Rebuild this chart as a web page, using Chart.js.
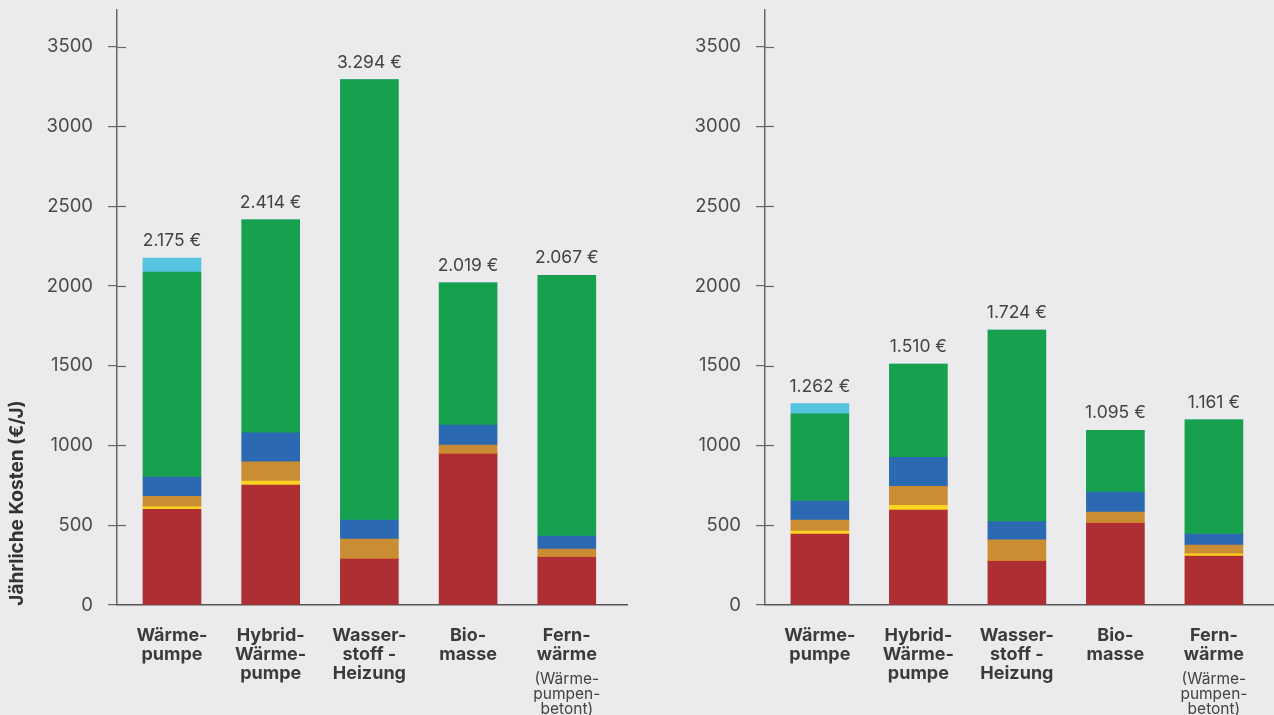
<!DOCTYPE html>
<html>
<head>
<meta charset="utf-8">
<script src="https://cdn.jsdelivr.net/npm/chart.js@4.4.1/dist/chart.umd.min.js"></script>
<style>
html,body{margin:0;padding:0;background:#ebebed;}
#wrap{position:relative;width:1274px;height:715px;overflow:hidden;}
#c1{position:absolute;left:0;top:0;}
#c2{position:absolute;left:640px;top:0;}
</style>
</head>
<body>
<div id="wrap">
<canvas id="c1" width="640" height="715"></canvas>
<canvas id="c2" width="634" height="715"></canvas>
</div>
<script>
// ---- data ----
const categories = [["Wärme-","pumpe"],["Hybrid-","Wärme-","pumpe"],["Wasser-","stoff -","Heizung"],["Bio-","masse"],["Fern-","wärme"]];
const categoryNotes = [null,null,null,null,["(Wärme-","pumpen-","betont)"]];
const yTicks = [0,500,1000,1500,2000,2500,3000,3500];
const yAxisTitle = "Jährliche Kosten (€/J)";
const seriesNames = ["Anteil 1","Anteil 2","Anteil 3","Anteil 4","Anteil 5","Anteil 6"];

// left panel
const leftRed       = [600, 752, 289, 947, 301];
const leftYellow    = [15, 25, 0, 0, 0];
const leftOrange    = [67, 121, 125, 56, 50];
const leftBlue      = [120, 182, 119, 125, 81];
const leftGreen     = [1285, 1334, 2761, 891, 1635];
const leftLightBlue = [88, 0, 0, 0, 0];

// right panel
const rightRed       = [445, 595, 276, 514, 307];
const rightYellow    = [19, 30, 0, 0, 13];
const rightOrange    = [69, 119, 132, 69, 56];
const rightBlue      = [119, 182, 115, 125, 69];
const rightGreen     = [547, 584, 1201, 387, 716];
const rightLightBlue = [63, 0, 0, 0, 0];

// ---- styles ----
const colors = ["#ad2f33","#fdd421","#cb8d33","#2b69b2","#17a04e","#55c4e0"];
const FONT = "Inter, Roboto, sans-serif";

function fmt(n){
  return String(Math.round(n)).replace(/\B(?=(\d{3})+(?!\d))/g, ".") + " €";
}

function buildDatasets(series){
  return series.map((vals, k) => ({
    label: seriesNames[k],
    data: vals.map((v,i)=>({x:i, y:v})),
    backgroundColor: colors[k],
    borderWidth: 0,
    barThickness: 58
  }));
}

const decor = {
  id: 'decor',
  afterDatasetsDraw(chart, args, opts){
    const {ctx, chartArea} = chart;
    const x = chart.scales.x, y = chart.scales.y;
    ctx.save();
    // inner halves of y tick marks
    ctx.strokeStyle = '#666'; ctx.lineWidth = 1.2;
    y.ticks.forEach(t => {
      if (t.value === 0) return;
      const py = Math.round(y.getPixelForValue(t.value)) + 0.5;
      ctx.beginPath(); ctx.moveTo(chartArea.left, py); ctx.lineTo(chartArea.left + 9, py); ctx.stroke();
    });
    // totals
    const sets = chart.data.datasets;
    ctx.fillStyle = '#444'; ctx.font = '17.5px ' + FONT; ctx.textAlign = 'center'; ctx.textBaseline = 'alphabetic';
    categories.forEach((c,i) => {
      let tot = 0; sets.forEach(ds => tot += ds.data[i].y);
      ctx.fillText(fmt(tot), x.getPixelForValue(i), y.getPixelForValue(tot) - 12);
    });
    // notes under category labels
    ctx.font = '15.5px ' + FONT; ctx.fillStyle = '#444'; ctx.textBaseline = 'middle';
    categoryNotes.forEach((note,i) => {
      if (!note) return;
      note.forEach((line,j) => ctx.fillText(line, x.getPixelForValue(i), chartArea.bottom + 74 + j*15));
    });
    // y title
    if (opts.title){
      ctx.translate(17, chartArea.bottom - 102);
      ctx.rotate(-Math.PI/2);
      ctx.font = 'bold 19px ' + FONT; ctx.fillStyle = '#333'; ctx.textAlign = 'center';
      ctx.fillText(opts.title, 0, 0);
    }
    ctx.restore();
  }
};

function makeChart(id, series, yWidth, padRight, title){
  return new Chart(document.getElementById(id), {
    type: 'bar',
    data: { datasets: buildDatasets(series) },
    plugins: [decor],
    options: {
      responsive: false,
      animation: false,
      layout: { padding: { top: 10, right: padRight, left: 0, bottom: 0 } },
      plugins: { legend: { display: false }, tooltip: { enabled: false }, decor: { title: title } },
      scales: {
        x: {
          type: 'linear', min: -0.557, max: 4.61, stacked: true, offset: false,
          afterBuildTicks: s => { s.ticks = categories.map((_,i)=>({value:i})); },
          afterFit: s => { s.height = 110; s.paddingLeft = 0; s.paddingRight = 0; },
          grid: { display: true, drawOnChartArea: false, drawTicks: false },
          border: { display: true, color: '#555', width: 1.5 },
          ticks: {
            autoSkip: false, maxRotation: 0, minRotation: 0, padding: 21, color: '#3b3b3b',
            font: { family: FONT, size: 18, weight: 'bold', lineHeight: 1.06 },
            callback: v => categories[v] || ''
          }
        },
        y: {
          min: 0, max: 3730, stacked: true,
          afterBuildTicks: s => { s.ticks = yTicks.map(v=>({value:v})); },
          afterFit: s => { s.width = yWidth; s.paddingTop = 0; s.paddingBottom = 0; },
          grid: { drawOnChartArea: false, drawTicks: true, tickLength: 9, color: '#666', lineWidth: 1.2 },
          border: { display: true, color: '#666', width: 1.5 },
          ticks: { padding: 15, color: '#4a4a4a', font: { family: FONT, size: 18.5 }, callback: v => String(v) }
        }
      }
    }
  });
}

makeChart('c1', [leftRed, leftYellow, leftOrange, leftBlue, leftGreen, leftLightBlue], 117, 13, yAxisTitle);
makeChart('c2', [rightRed, rightYellow, rightOrange, rightBlue, rightGreen, rightLightBlue], 125, 0, null);
</script>
</body>
</html>
